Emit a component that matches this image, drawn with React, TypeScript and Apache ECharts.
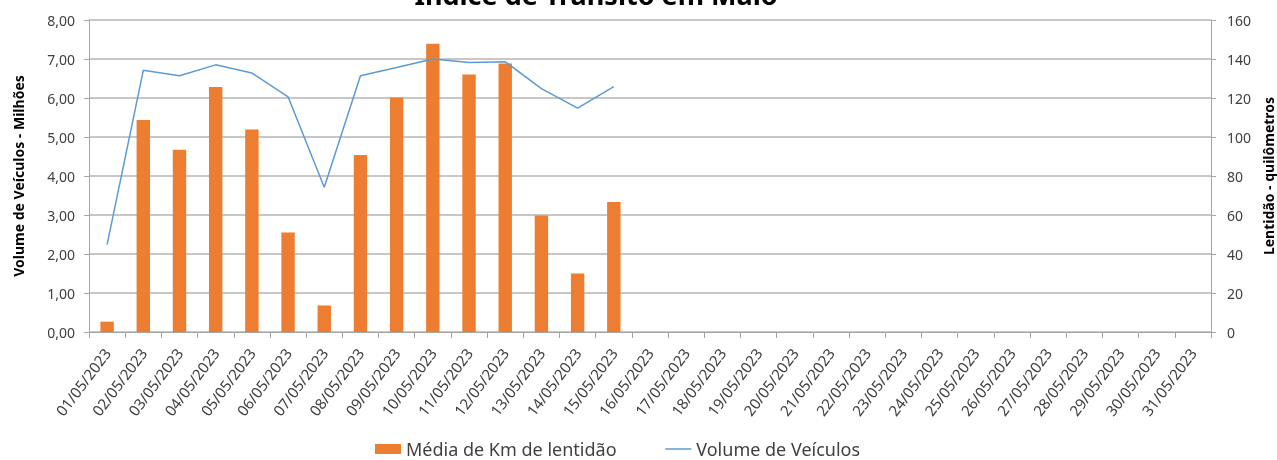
import React, { useEffect, useRef } from "react";
import * as echarts from "echarts";

const categories = [
  "01/05/2023", "02/05/2023", "03/05/2023", "04/05/2023", "05/05/2023", "06/05/2023",
  "07/05/2023", "08/05/2023", "09/05/2023", "10/05/2023", "11/05/2023", "12/05/2023",
  "13/05/2023", "14/05/2023", "15/05/2023", "16/05/2023", "17/05/2023", "18/05/2023",
  "19/05/2023", "20/05/2023", "21/05/2023", "22/05/2023", "23/05/2023", "24/05/2023",
  "25/05/2023", "26/05/2023", "27/05/2023", "28/05/2023", "29/05/2023", "30/05/2023",
  "31/05/2023",
];

// Média de Km de lentidão (right axis, km)
const lentidaoKm = [5.3, 108.7, 93.5, 125.7, 103.8, 51, 13.6, 90.8, 120.3, 147.8, 132, 137.7, 59.8, 30, 66.7];

// Volume de Veículos (left axis, milhões)
const volumeMilhoes = [2.24, 6.71, 6.57, 6.85, 6.64, 6.03, 3.71, 6.57, 6.78, 7.0, 6.91, 6.93, 6.24, 5.74, 6.29];

const FONT = "'Noto Sans', sans-serif";

export default function App() {
  const ref = useRef<HTMLDivElement>(null);
  useEffect(() => {
    if (!ref.current) return;
    const chart = echarts.init(ref.current, null, { renderer: "svg" });
    chart.setOption({
      animation: false,
      textStyle: { fontFamily: FONT },
      graphic: [
        {
          type: "text",
          x: 596,
          y: 8,
          style: {
            text: "Índice de Trânsito em Maio",
            font: `bold 27px ${FONT}`,
            fill: "#000",
            textAlign: "center",
            textVerticalAlign: "bottom",
          },
        },
      ],
      legend: {
        left: 370,
        top: 435,
        itemGap: 48,
        itemWidth: 26,
        itemHeight: 10,
        textStyle: { fontSize: 18, color: "#404040", fontFamily: FONT },
        data: [
          { name: "Média de Km de lentidão", icon: "rect" },
          {
            name: "Volume de Veículos",
            itemStyle: { color: "rgba(0,0,0,0)", borderColor: "rgba(0,0,0,0)", borderWidth: 0 },
            lineStyle: { color: "#5B9BD5", width: 1.5 },
          },
        ],
      },
      grid: { left: 89, right: 66, top: 20, bottom: 128, containLabel: false, outerBoundsMode: "none" },
      xAxis: {
        type: "category",
        data: categories,
        boundaryGap: true,
        axisLine: { lineStyle: { color: "#a6a6a6", width: 1 } },
        axisTick: { show: true, length: 6, alignWithLabel: false, interval: 0, lineStyle: { color: "#a6a6a6" } },
        axisLabel: { interval: 0, rotate: 53, fontSize: 15, color: "#404040", fontFamily: FONT, margin: 18 },
      },
      yAxis: [
        {
          type: "value",
          min: 0,
          max: 8,
          interval: 1,
          name: "Volume de Veículos - Milhões",
          nameLocation: "middle",
          nameGap: 64,
          nameTextStyle: { fontWeight: "bold", fontSize: 14, color: "#000", fontFamily: FONT },
          axisLine: { show: true, lineStyle: { color: "#a6a6a6" } },
          axisTick: { show: true, length: 5, lineStyle: { color: "#a6a6a6" } },
          axisLabel: {
            fontSize: 14,
            color: "#404040",
            margin: 14,
            formatter: (v: number) => v.toFixed(2).replace(".", ","),
          },
          splitLine: { show: true, lineStyle: { color: "#b4b4b4", width: 1.5 } },
        },
        {
          type: "value",
          min: 0,
          max: 160,
          interval: 20,
          name: "Lentidão - quilômetros",
          nameLocation: "middle",
          nameGap: 48,
          nameTextStyle: { fontWeight: "bold", fontSize: 14, color: "#000", fontFamily: FONT },
          axisLine: { show: true, lineStyle: { color: "#a6a6a6" } },
          axisTick: { show: true, length: 5, lineStyle: { color: "#a6a6a6" } },
          axisLabel: { fontSize: 14, color: "#404040", margin: 16 },
          splitLine: { show: false },
        },
      ],
      series: [
        {
          name: "Média de Km de lentidão",
          type: "bar",
          yAxisIndex: 1,
          data: lentidaoKm,
          barWidth: "37%",
          itemStyle: { color: "#ED7D31" },
        },
        {
          name: "Volume de Veículos",
          type: "line",
          yAxisIndex: 0,
          data: volumeMilhoes,
          symbol: "none",
          lineStyle: { color: "#5B9BD5", width: 1.5 },
          itemStyle: { color: "#5B9BD5" },
        },
      ],
    });
    return () => chart.dispose();
  }, []);
  return <div ref={ref} style={{ position: "fixed", left: 0, top: 0, width: 1277, height: 460 }} />;
}
